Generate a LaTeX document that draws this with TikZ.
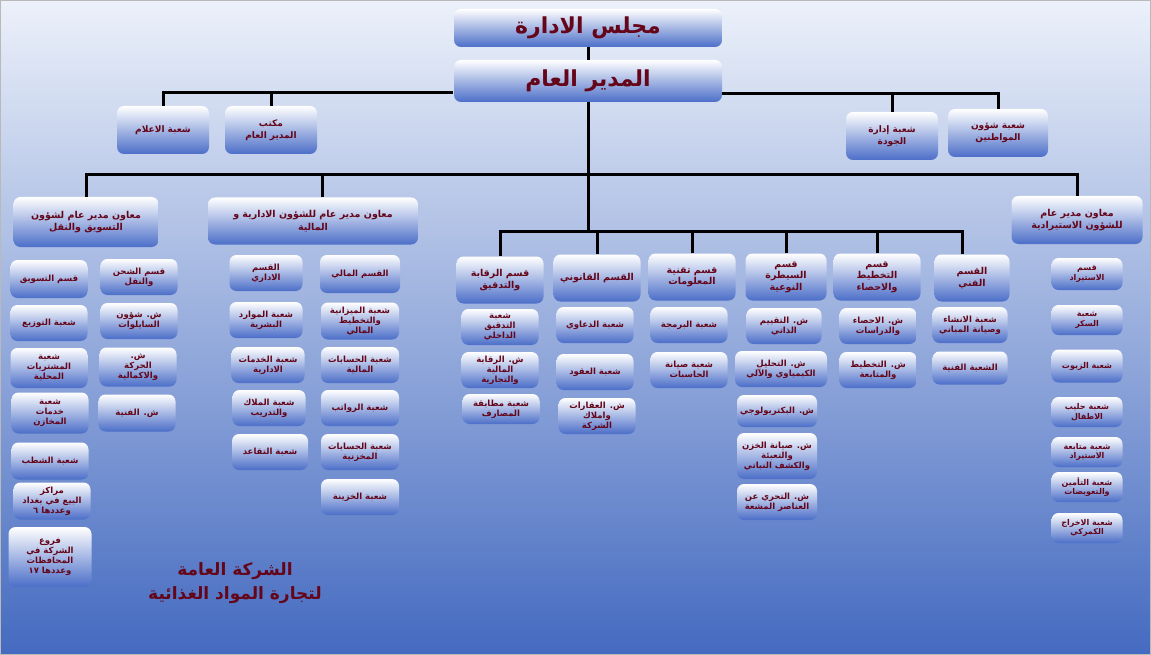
\documentclass[tikz,border=0pt]{standalone}
\usepackage{fontspec}
\usepackage{tikz}
\usetikzlibrary{positioning, calc}
\newfontfamily\arabicfont[Script=Arabic]{DejaVu Sans}
\TeXXeTstate=1
\definecolor{wine}{RGB}{100,5,25}
\definecolor{boxblue}{RGB}{75,110,200}
\definecolor{bgtop}{RGB}{236,241,250}
\definecolor{bgbot}{RGB}{68,106,192}
\newcommand\rl[1]{\beginR#1\endR}

\begin{document}
\begin{tikzpicture}[x=1pt,y=-1pt,
  box/.style={rounded corners=7pt,top color=white,bottom color=boxblue,
              text=wine,align=center,inner sep=1pt,
              font=\arabicfont\bfseries\fontsize{8.5}{10}\selectfont},
  hdr/.style={box,minimum width=268,minimum height=38,
              font=\arabicfont\bfseries\fontsize{22}{24}\selectfont},
  office/.style={box,minimum width=92,minimum height=48,
                 font=\arabicfont\bfseries\fontsize{9}{12}\selectfont},
  vice/.style={box,minimum height=48,
               font=\arabicfont\bfseries\fontsize{9.5}{12.5}\selectfont},
  dept/.style={box,minimum width=87,minimum height=47,
               font=\arabicfont\bfseries\fontsize{9.5}{11.5}\selectfont},
  unit/.style={box,minimum width=77,minimum height=36},
  imp/.style={box,minimum width=71,minimum height=30,
              font=\arabicfont\bfseries\fontsize{8}{9.5}\selectfont},
  link/.style={line width=3pt,black},
  brand/.style={text=wine,align=center,
                font=\arabicfont\bfseries\fontsize{17}{24}\selectfont}
]
\useasboundingbox (0,0) rectangle (1151,655);
\fill[top color=bgtop,bottom color=bgbot] (0,0) rectangle (1151,655);
\draw[gray!55,line width=1.5pt] (0,0) rectangle (1151,655);

% top of the chart
\node[hdr] (board) at (588,28) {\rl{مجلس الادارة}};
\node[hdr,minimum height=42] (gm) at (588,81) {\rl{المدير العام}};
\node[office] (media)    at (163,130) {\rl{شعبة الاعلام}};
\node[office] (bureau)   at (271,130) {\rl{مكتب}\\\rl{المدير العام}};
\node[office] (quality)  at (892,136) {\rl{شعبة إدارة}\\\rl{الجودة}};
\node[office,minimum width=100] (citizens) at (998,133) {\rl{شعبة شؤون}\\\rl{المواطنين}};

% assistant directors
\node[vice,minimum width=145,minimum height=50] (vmkt) at (86,222) {\rl{معاون مدير عام لشؤون}\\\rl{التسويق والنقل}};
\node[vice,minimum width=210,minimum height=47] (vadm) at (313,221) {\rl{معاون مدير عام للشؤون الادارية و}\\\rl{المالية}};
\node[vice,minimum width=131] (vimp) at (1077,220) {\rl{معاون مدير عام}\\\rl{للشؤون الاستيرادية}};

% departments under the general director
\node[dept] (audit) at (500,280) {\rl{قسم الرقابة}\\\rl{والتدقيق}};
\node[dept] (legal) at (597,278) {\rl{القسم القانوني}};
\node[dept] (it)    at (692,277) {\rl{قسم تقنية}\\\rl{المعلومات}};
\node[dept,minimum width=81] (qc)   at (786,277) {\rl{قسم}\\\rl{السيطرة}\\\rl{النوعية}};
\node[dept] (plan)  at (877,277) {\rl{قسم}\\\rl{التخطيط}\\\rl{والاحصاء}};
\node[dept,minimum width=75] (tech) at (972,278) {\rl{القسم}\\\rl{الفني}};

\node[unit] (aud1) at (500,327) {\rl{شعبة}\\\rl{التدقيق}\\\rl{الداخلي}};
\node[unit] (aud2) at (500,370) {\rl{ش. الرقابة}\\\rl{المالية}\\\rl{والتجارية}};
\node[unit,minimum height=30] (aud3) at (501,409) {\rl{شعبة مطابقة}\\\rl{المصارف}};
\node[unit] (leg1) at (595,325) {\rl{شعبة الدعاوي}};
\node[unit] (leg2) at (595,372) {\rl{شعبة العقود}};
\node[unit] (leg3) at (597,416) {\rl{ش. العقارات}\\\rl{واملاك}\\\rl{الشركة}};
\node[unit] (it1)  at (689,325) {\rl{شعبة البرمجة}};
\node[unit] (it2)  at (689,370) {\rl{شعبة صيانة}\\\rl{الحاسبات}};
\node[unit,minimum width=75] (qc1) at (784,326) {\rl{ش. التقييم}\\\rl{الذاتي}};
\node[unit,minimum width=92] (qc2) at (781,369) {\rl{ش. التحليل}\\\rl{الكيمياوي والآلي}};
\node[unit,minimum width=80,minimum height=32] (qc3) at (777,411) {\rl{ش. البكتريولوجي}};
\node[unit,minimum width=80,minimum height=46] (qc4) at (777,456) {\rl{ش. صيانة الخزن}\\\rl{والتعبئة}\\\rl{والكشف النباتي}};
\node[unit,minimum width=80] (qc5) at (777,502) {\rl{ش. التحري عن}\\\rl{العناصر المشعة}};
\node[unit] (pl1)  at (878,326) {\rl{ش. الاحصاء}\\\rl{والدراسات}};
\node[unit] (pl2)  at (878,370) {\rl{ش. التخطيط}\\\rl{والمتابعة}};
\node[unit,minimum width=75] (te1) at (970,325) {\rl{شعبة الانشاء}\\\rl{وصيانة المباني}};
\node[unit,minimum width=75,minimum height=33] (te2) at (970,368) {\rl{الشعبة الفنية}};

% import affairs
\node[imp,minimum height=32] (im1) at (1087,274) {\rl{قسم}\\\rl{الاستيراد}};
\node[imp] (im2) at (1087,320) {\rl{شعبة}\\\rl{السكر}};
\node[imp,minimum height=33] (im3) at (1087,366) {\rl{شعبة الزيوت}};
\node[imp] (im4) at (1087,412) {\rl{شعبة حليب}\\\rl{الاطفال}};
\node[imp] (im5) at (1087,452) {\rl{شعبة متابعة}\\\rl{الاستيراد}};
\node[imp] (im6) at (1087,487) {\rl{شعبة التأمين}\\\rl{والتعويضات}};
\node[imp] (im7) at (1087,528) {\rl{شعبة الاخراج}\\\rl{الكمركي}};

% marketing and transport
\node[unit,minimum height=38] (mk1) at (49,279) {\rl{قسم التسويق}};
\node[unit] (mk2) at (49,323) {\rl{شعبة التوزيع}};
\node[unit,minimum height=40] (mk3) at (49,368) {\rl{شعبة}\\\rl{المشتريات}\\\rl{المحلية}};
\node[unit,minimum height=41] (mk4) at (50,413) {\rl{شعبة}\\\rl{خدمات}\\\rl{المخازن}};
\node[unit,minimum height=37] (mk5) at (50,461) {\rl{شعبة الشطب}};
\node[unit,minimum height=37] (mk6) at (52,501) {\rl{مراكز}\\\rl{البيع في بغداد}\\\rl{وعددها ٦}};
\node[unit,minimum width=83,minimum height=60] (mk7) at (50,557) {\rl{فروع}\\\rl{الشركة في}\\\rl{المحافظات}\\\rl{وعددها ١٧}};
\node[unit] (tr1) at (139,277) {\rl{قسم الشحن}\\\rl{والنقل}};
\node[unit] (tr2) at (139,321) {\rl{ش. شؤون}\\\rl{السايلوات}};
\node[unit,minimum height=39] (tr3) at (138,367) {\rl{ش.}\\\rl{الحركة}\\\rl{والاكمالية}};
\node[unit,minimum height=37] (tr4) at (137,413) {\rl{ش. الفنية}};

% administration and finance
\node[unit,minimum width=73] (ad1) at (266,273) {\rl{القسم}\\\rl{الاداري}};
\node[unit,minimum width=73] (ad2) at (266,320) {\rl{شعبة الموارد}\\\rl{البشرية}};
\node[unit,minimum width=73] (ad3) at (268,365) {\rl{شعبة الخدمات}\\\rl{الادارية}};
\node[unit,minimum width=73] (ad4) at (269,408) {\rl{شعبة الملاك}\\\rl{والتدريب}};
\node[unit,minimum width=76] (ad5) at (270,452) {\rl{شعبة التقاعد}};
\node[unit,minimum width=80,minimum height=38] (fi1) at (360,274) {\rl{القسم المالي}};
\node[unit,minimum width=78,minimum height=37] (fi2) at (360,321) {\rl{شعبة الميزانية}\\\rl{والتخطيط}\\\rl{المالي}};
\node[unit,minimum width=78] (fi3) at (360,365) {\rl{شعبة الحسابات}\\\rl{المالية}};
\node[unit,minimum width=78] (fi4) at (360,408) {\rl{شعبة الرواتب}};
\node[unit,minimum width=78] (fi5) at (360,452) {\rl{شعبة الحسابات}\\\rl{المخزنية}};
\node[unit,minimum width=78] (fi6) at (360,497) {\rl{شعبة الخزينة}};

\node[brand] (firm) at (235,583) {\rl{الشركة العامة}\\\rl{لتجارة المواد الغذائية}};

% connectors
\coordinate (tapL) at (453,93);
\coordinate (tapR) at (722,94);
\coordinate (bus1) at (588,175);
\coordinate (bus2) at (588,232);
\draw[link] (board) -- (gm);
\draw[link] (tapL) -| (media);
\draw[link] (bureau.north) -- (bureau.north |- tapL);
\draw[link] (tapR) -| (citizens);
\draw[link] (quality.north) -- (quality.north |- tapR);
\draw[link] (gm) -- (bus2);
\draw[link] (vmkt.north) |- (bus1) -| (vimp.north);
\draw[link] ([xshift=9pt]vadm.north) -- ([xshift=9pt]vadm.north |- bus1);
\draw[link] (audit.north) |- (bus2) -| ([xshift=-10pt]tech.north);
\foreach \d in {legal,it,qc,plan}
  \draw[link] (\d.north) -- (\d.north |- bus2);
\end{tikzpicture}
\end{document}
